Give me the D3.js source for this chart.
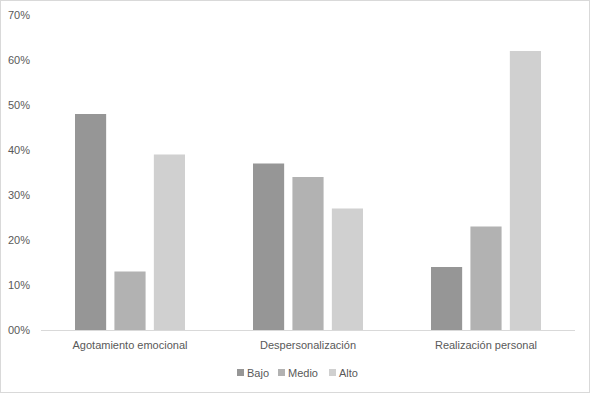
<!DOCTYPE html>
<html>
<head>
<meta charset="utf-8">
<script src="https://cdn.jsdelivr.net/npm/d3@7"></script>
<style>
  body { margin: 0; background: #fff; }
  text { font-family: "Liberation Sans", Arial, sans-serif; fill: #595959; }
</style>
</head>
<body>
<div id="chart"></div>
<script>
// data
var categories = ["Agotamiento emocional", "Despersonalización", "Realización personal"];
var seriesNames = ["Bajo", "Medio", "Alto"];
var bajo = [48, 37, 14];
var medio = [13, 34, 23];
var alto = [39, 27, 62];
var yTicks = [0, 10, 20, 30, 40, 50, 60, 70];

var W = 590, H = 393;
var margin = { top: 15, right: 15, bottom: 63, left: 41 };
var width = W - margin.left - margin.right;
var height = H - margin.top - margin.bottom;
var colors = ["#969696", "#b2b2b2", "#d0d0d0"];
var values = [bajo, medio, alto];

var svg = d3.select("#chart").append("svg")
  .attr("width", W)
  .attr("height", H);

// chart border
svg.append("rect")
  .attr("x", 0.5).attr("y", 0.5)
  .attr("width", W - 1).attr("height", H - 1)
  .attr("fill", "#fff")
  .attr("stroke", "#d9d9d9");

var g = svg.append("g")
  .attr("transform", "translate(" + margin.left + "," + margin.top + ")");

var x0 = d3.scaleBand().domain(categories).range([0, width]).paddingInner(0).paddingOuter(0);
var x1 = d3.scaleBand().domain(seriesNames).range([34, 144]).paddingInner(0.21).paddingOuter(0);
var y = d3.scaleLinear().domain([0, 70]).range([height, 0]);

// y tick labels
g.selectAll(".ylab")
  .data(yTicks)
  .enter()
  .append("text")
  .attr("class", "ylab")
  .attr("x", -11)
  .attr("y", function (d) { return y(d); })
  .attr("dy", "0.35em")
  .attr("text-anchor", "end")
  .style("font-size", "11px")
  .text(function (d) { return (d < 10 ? "0" : "") + d + "%"; });

// bars
seriesNames.forEach(function (s, i) {
  g.selectAll(".bar-" + i)
    .data(values[i])
    .enter()
    .append("rect")
    .attr("class", "bar-" + i)
    .attr("x", function (d, j) { return x0(categories[j]) + x1(s); })
    .attr("width", x1.bandwidth())
    .attr("y", function (d) { return y(d); })
    .attr("height", function (d) { return height - y(d); })
    .attr("fill", colors[i]);
});

// baseline
g.append("line")
  .attr("x1", 0).attr("x2", width)
  .attr("y1", height + 0.5).attr("y2", height + 0.5)
  .attr("stroke", "#d9d9d9");

// category labels
g.selectAll(".xlab")
  .data(categories)
  .enter()
  .append("text")
  .attr("class", "xlab")
  .attr("x", function (d) { return x0(d) + x0.bandwidth() / 2; })
  .attr("y", height + 19)
  .attr("text-anchor", "middle")
  .style("font-size", "11px")
  .text(function (d) { return d; });

// legend
var legendX = [237, 278, 329];
var legend = svg.append("g").attr("class", "legend");
seriesNames.forEach(function (s, i) {
  legend.append("rect")
    .attr("x", legendX[i]).attr("y", 369)
    .attr("width", 7).attr("height", 7)
    .attr("fill", colors[i]);
  legend.append("text")
    .attr("x", legendX[i] + 10).attr("y", 376.5)
    .style("font-size", "11px")
    .text(s);
});
</script>
</body>
</html>
